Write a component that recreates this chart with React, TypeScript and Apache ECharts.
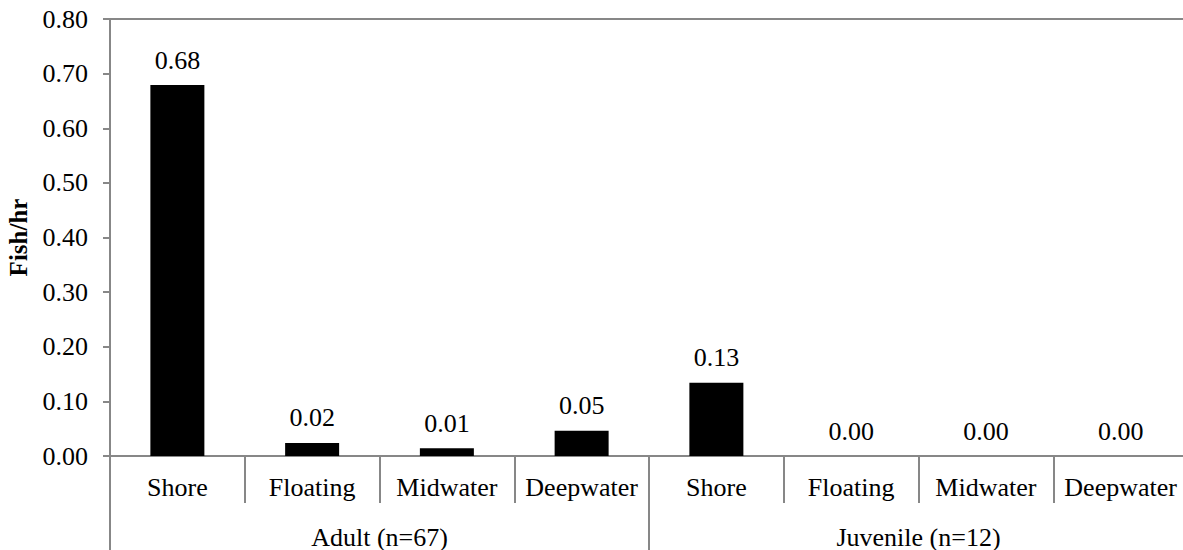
import React, { useEffect, useRef } from "react";
import * as echarts from "echarts";

const categories = ["Shore", "Floating", "Midwater", "Deepwater", "Shore", "Floating", "Midwater", "Deepwater"];
const groups = ["Adult (n=67)", "Juvenile (n=12)"];
const values = [0.679, 0.024, 0.014, 0.046, 0.134, 0, 0, 0];
const yMin = 0;
const yMax = 0.8;
const yStep = 0.1;

const FONT = "Liberation Serif";
const GRAY = "#878787";
const FS = 26;

export default function App() {
  const ref = useRef<HTMLDivElement>(null);
  useEffect(() => {
    if (!ref.current) return;
    const chart = echarts.init(ref.current, undefined, { renderer: "svg" });
    chart.setOption({
      animation: false,
      backgroundColor: "#ffffff",
      textStyle: { fontFamily: FONT },
      grid: { left: 110, top: 19, right: -5, bottom: 94, containLabel: false, outerBoundsMode: "none" },
      xAxis: [
        {
          type: "category",
          data: categories,
          position: "bottom",
          axisLine: { show: true, lineStyle: { color: GRAY, width: 2 } },
          axisTick: { show: true, alignWithLabel: false, interval: 0, length: 47, lineStyle: { color: GRAY, width: 2 } },
          axisLabel: { interval: 0, margin: 18, fontSize: FS, color: "#000", fontFamily: FONT },
          splitLine: { show: false },
        },
        {
          type: "category",
          data: groups,
          position: "bottom",
          offset: 47,
          axisLine: { show: false },
          axisTick: { show: true, alignWithLabel: false, interval: 0, length: 60, lineStyle: { color: GRAY, width: 2 } },
          axisLabel: { interval: 0, margin: 21, fontSize: FS, color: "#000", fontFamily: FONT },
          splitLine: { show: false },
        },
        {
          type: "category",
          data: categories,
          position: "top",
          axisLine: { show: true, lineStyle: { color: GRAY, width: 2 } },
          axisTick: { show: false },
          axisLabel: { show: false },
          splitLine: { show: false },
        },
      ],
      yAxis: {
        type: "value",
        min: yMin,
        max: yMax,
        interval: yStep,
        name: "Fish/hr",
        nameLocation: "middle",
        nameGap: 80,
        nameTextStyle: { fontSize: 25, lineHeight: 24, fontWeight: "bold", color: "#000", fontFamily: FONT },
        axisLine: { show: true, lineStyle: { color: GRAY, width: 2 } },
        axisTick: { show: true, inside: false, length: 7, lineStyle: { color: GRAY, width: 2 } },
        axisLabel: {
          margin: 22,
          fontSize: FS,
          color: "#000",
          fontFamily: FONT,
          formatter: (v: number) => v.toFixed(2),
        },
        splitLine: { show: false },
      },
      series: [
        {
          type: "bar",
          data: values,
          xAxisIndex: 0,
          barWidth: 54,
          itemStyle: { color: "#000" },
          label: {
            show: true,
            position: "top",
            distance: 12,
            fontSize: FS,
            color: "#000",
            fontFamily: FONT,
            formatter: (p: any) => Number(p.value).toFixed(2),
          },
        },
      ],
    });
    return () => chart.dispose();
  }, []);
  return (
    <div
      ref={ref}
      style={{ position: "absolute", left: 0, top: 0, width: 1183, height: 550, background: "#fff" }}
    />
  );
}
